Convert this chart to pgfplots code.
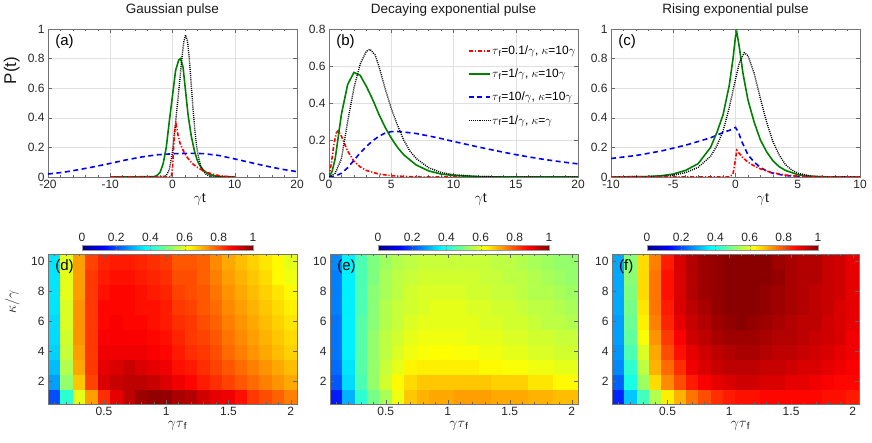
\documentclass[border=0pt]{standalone}
\usepackage{fontspec}
\setmainfont{Liberation Sans}
\usepackage{pgfplots}
\pgfplotsset{compat=1.18}
\definecolor{mgreen}{rgb}{0,0.5,0}
\pgfplotsset{
  /pgf/number format/assume math mode=true,
  common/.style={
    scale only axis,
    axis line style={black!55, line width=0.5pt},
    tick style={black!60, line width=0.5pt},
    tick align=inside,
    major tick length=4pt,
    minor tick length=2.2pt,
    ticklabel style={font=\fontsize{12}{13}\selectfont, text=black!85},
    label style={font=\fontsize{14}{15}\selectfont, text=black!90},
  },
  toppanel/.style={
    common, width=249pt, height=148pt,
    grid=major, grid style={black!12, line width=0.4pt},
    minor x tick num=4,
    title style={font=\fontsize{13.5}{14}\selectfont, text=black!90, yshift=3pt},
    xlabel={$\gamma$t},
    xlabel style={at={(axis description cs:0.61,0)}, anchor=north, yshift=-13pt},
  },
  heat/.style={
    common, height=150pt,
    axis on top, xmin=0.05, xmax=2.05, ymin=0.5, ymax=10.5,
    xtick={0.5,1,1.5,2}, ytick={2,4,6,8,10},
    minor xtick={0.1,0.2,0.3,0.4,0.6,0.7,0.8,0.9,1.1,1.2,1.3,1.4,1.6,1.7,1.8,1.9},
    colormap/jet, point meta min=0, point meta max=1,
    colorbar horizontal,
    xlabel={$\gamma\tau$\textsubscript{f}},
    xlabel style={at={(axis description cs:0.52,0)}, anchor=north, yshift=-14pt},
  },
  cbcommon/.style={anchor=south west, scale only axis, width=171pt, height=4.6pt,
    xtick={0,0.2,0.4,0.6,0.8,1}, xticklabel pos=upper, tick align=inside,
    major tick length=1.5pt, axis line style={black!40}, tick style={black!50},
    xticklabel style={font=\fontsize{12}{13}\selectfont, text=black!85},
    /pgf/number format/assume math mode=true},
  redc/.style={color=red, line width=1.6pt, dash pattern=on 4pt off 1.8pt on 1.2pt off 1.8pt},
  greenc/.style={color=mgreen, line width=1.6pt, solid},
  bluec/.style={color=blue, line width=1.6pt, dash pattern=on 5pt off 3.5pt},
  blackc/.style={color=black, line width=1.4pt, dash pattern=on 1pt off 1.1pt},
}
\begin{document}
\begin{tikzpicture}
\useasboundingbox (0,0) rectangle (872pt,443pt);
% ---------------- (a)
\begin{axis}[toppanel, at={(48pt,266pt)}, anchor=south west,
  xmin=-20, xmax=20, ymin=0, ymax=1,
  xtick={-20,-10,0,10,20}, ytick={0,0.2,0.4,0.6,0.8,1},
  title={Gaussian pulse}, ylabel={P(t)},
  ylabel style={at={(axis description cs:-0.1,0.72)}, anchor=south, font=\fontsize{17}{18}\selectfont}]
\addplot[bluec] coordinates {(-20,0.02) (-17.5,0.032) (-15,0.05) (-12.5,0.07) (-10,0.092) (-7.5,0.115) (-5,0.135) (-2.5,0.15) (0,0.157) (2.5,0.16) (5,0.158) (7.5,0.145) (10,0.122) (12.5,0.098) (15,0.074) (17.5,0.053) (20,0.036)};
\addplot[greenc] coordinates {(-10,0) (-3,0.002) (-2.5,0.01) (-2,0.03) (-1.5,0.09) (-1,0.2) (-0.5,0.38) (0,0.55) (0.5,0.72) (1,0.79) (1.3,0.8) (1.7,0.74) (2,0.62) (2.5,0.42) (3,0.28) (3.5,0.18) (4,0.11) (4.5,0.07) (5,0.045) (5.5,0.028) (6,0.017) (7,0.006) (8,0.002) (10,0)};
\addplot[blackc] coordinates {(-10,0) (-2,0) (-1,0.01) (-0.5,0.05) (0,0.17) (0.5,0.37) (1,0.58) (1.5,0.8) (1.8,0.91) (2.1,0.96) (2.4,0.92) (2.7,0.8) (3,0.63) (3.3,0.46) (3.6,0.31) (3.9,0.2) (4.2,0.13) (4.5,0.08) (5,0.035) (5.5,0.015) (6,0.006) (7,0.001) (10,0)};
\addplot[redc] coordinates {(-10,0) (-0.2,0) (0,0.06) (0.2,0.22) (0.4,0.33) (0.55,0.36) (0.7,0.33) (0.9,0.28) (1.2,0.23) (1.6,0.19) (2,0.155) (2.5,0.125) (3,0.1) (3.5,0.08) (4,0.065) (5,0.04) (6,0.025) (7,0.013) (8,0.006) (10,0.001)};
\node[anchor=north west, font=\fontsize{15}{16}\selectfont] at (rel axis cs:0.015,0.985) {(a)};
\end{axis}
% ---------------- (b)
\begin{axis}[toppanel, at={(329pt,266pt)}, anchor=south west,
  xmin=0, xmax=20, ymin=0, ymax=0.8,
  xtick={0,5,10,15,20}, ytick={0,0.2,0.4,0.6,0.8},
  title={Decaying exponential pulse},
  legend style={at={(axis description cs:0.995,0.895)}, anchor=north east, draw=none, fill=none,
    font=\fontsize{12}{13}\selectfont, row sep=11pt, inner sep=0pt, nodes={inner sep=1pt}},
  legend cell align=left,
  legend image post style={xscale=1.25}]
\addplot[redc] coordinates {(0,0) (0.2,0.08) (0.4,0.18) (0.6,0.24) (0.75,0.25) (1,0.22) (1.5,0.14) (2,0.085) (2.5,0.055) (3,0.035) (4,0.016) (5,0.007) (6,0.003) (8,0) (20,0)};
\addlegendentry{$\tau$\textsubscript{f}=0.1/$\gamma$, $\kappa$=10$\gamma$}
\addplot[greenc] coordinates {(0,0) (0.25,0.03) (0.5,0.1) (0.75,0.22) (1,0.34) (1.5,0.5) (2,0.565) (2.5,0.55) (3,0.49) (3.5,0.42) (4,0.34) (4.5,0.27) (5,0.21) (5.5,0.16) (6,0.12) (7,0.065) (8,0.033) (9,0.016) (10,0.008) (12,0.002) (14,0) (20,0)};
\addlegendentry{$\tau$\textsubscript{f}=1/$\gamma$, $\kappa$=10$\gamma$}
\addplot[bluec] coordinates {(0,0) (0.5,0.005) (1,0.02) (1.5,0.05) (2,0.09) (2.5,0.13) (3,0.165) (3.5,0.195) (4,0.22) (4.5,0.237) (5,0.245) (5.5,0.246) (6,0.243) (7,0.235) (8,0.222) (9,0.208) (10,0.192) (11,0.177) (12,0.162) (13,0.148) (14,0.134) (15,0.121) (16,0.109) (17,0.098) (18,0.088) (19,0.079) (20,0.071)};
\addlegendentry{$\tau$\textsubscript{f}=10/$\gamma$, $\kappa$=10$\gamma$}
\addplot[blackc] coordinates {(0,0) (0.5,0.02) (1,0.1) (1.5,0.3) (2,0.48) (2.5,0.61) (3,0.68) (3.3,0.69) (3.7,0.66) (4,0.6) (4.5,0.48) (5,0.37) (5.5,0.28) (6,0.2) (6.5,0.14) (7,0.1) (8,0.05) (9,0.025) (10,0.012) (12,0.003) (14,0) (20,0)};
\addlegendentry{$\tau$\textsubscript{f}=1/$\gamma$, $\kappa$=$\gamma$}
\node[anchor=north west, font=\fontsize{15}{16}\selectfont] at (rel axis cs:0.015,0.985) {(b)};
\end{axis}
% ---------------- (c)
\begin{axis}[toppanel, at={(611pt,266pt)}, anchor=south west,
  xmin=-10, xmax=10, ymin=0, ymax=1,
  xtick={-10,-5,0,5,10}, ytick={0,0.2,0.4,0.6,0.8,1},
  title={Rising exponential pulse}]
\addplot[bluec] coordinates {(-10,0.125) (-8,0.145) (-6,0.175) (-5,0.195) (-4,0.215) (-3,0.24) (-2,0.265) (-1,0.3) (-0.5,0.315) (0,0.335) (0.25,0.3) (0.5,0.24) (1,0.15) (1.5,0.1) (2,0.065) (2.5,0.04) (3,0.025) (4,0.01) (5,0.004) (6,0.001) (10,0)};
\addplot[greenc] coordinates {(-10,0) (-7,0.003) (-6,0.008) (-5,0.02) (-4,0.045) (-3,0.09) (-2,0.2) (-1.5,0.3) (-1,0.42) (-0.5,0.62) (-0.2,0.8) (0,0.95) (0.1,0.98) (0.3,0.88) (0.6,0.7) (1,0.52) (1.5,0.37) (2,0.25) (2.5,0.17) (3,0.11) (3.5,0.07) (4,0.045) (5,0.016) (6,0.005) (7,0.001) (10,0)};
\addplot[blackc] coordinates {(-10,0) (-6,0.005) (-5,0.012) (-4,0.03) (-3,0.065) (-2,0.14) (-1.5,0.21) (-1,0.31) (-0.5,0.47) (0,0.66) (0.3,0.77) (0.7,0.84) (1,0.82) (1.5,0.7) (2,0.53) (2.5,0.37) (3,0.24) (3.5,0.15) (4,0.085) (4.5,0.048) (5,0.026) (6,0.007) (7,0.002) (10,0)};
\addplot[redc] coordinates {(-10,0) (-0.5,0) (-0.2,0.02) (0,0.12) (0.1,0.18) (0.3,0.16) (0.6,0.13) (1,0.1) (1.5,0.075) (2,0.055) (2.5,0.04) (3,0.028) (4,0.013) (5,0.006) (6,0.002) (10,0)};
\node[anchor=north west, font=\fontsize{15}{16}\selectfont] at (rel axis cs:0.015,0.985) {(c)};
\end{axis}
% ---------------- (d)
\begin{axis}[heat, width=249pt, at={(48pt,39pt)}, anchor=south west,
  ylabel={$\kappa/\gamma$},
  ylabel style={at={(axis description cs:-0.1,0.68)}, anchor=south, font=\fontsize{15}{16}\selectfont},
  colorbar style={cbcommon, at={(parent axis.north west)}, xshift=34pt, yshift=12.5pt}]
\addplot[matrix plot*, mesh/cols=20, point meta=explicit] coordinates {
(0.1,1)[0.20] (0.2,1)[0.42] (0.3,1)[0.60] (0.4,1)[0.72] (0.5,1)[0.83] (0.6,1)[0.90] (0.7,1)[0.94] (0.8,1)[0.97] (0.9,1)[0.98] (1.0,1)[0.98] (1.1,1)[0.96] (1.2,1)[0.95] (1.3,1)[0.92] (1.4,1)[0.90] (1.5,1)[0.89] (1.6,1)[0.86] (1.7,1)[0.82] (1.8,1)[0.80] (1.9,1)[0.78] (2.0,1)[0.75]

(0.1,2)[0.28] (0.2,2)[0.52] (0.3,2)[0.68] (0.4,2)[0.81] (0.5,2)[0.91] (0.6,2)[0.93] (0.7,2)[0.94] (0.8,2)[0.94] (0.9,2)[0.93] (1.0,2)[0.91] (1.1,2)[0.89] (1.2,2)[0.87] (1.3,2)[0.85] (1.4,2)[0.83] (1.5,2)[0.81] (1.6,2)[0.79] (1.7,2)[0.77] (1.8,2)[0.75] (1.9,2)[0.73] (2.0,2)[0.71]

(0.1,3)[0.31] (0.2,3)[0.55] (0.3,3)[0.71] (0.4,3)[0.82] (0.5,3)[0.90] (0.6,3)[0.91] (0.7,3)[0.93] (0.8,3)[0.91] (0.9,3)[0.90] (1.0,3)[0.89] (1.1,3)[0.86] (1.2,3)[0.85] (1.3,3)[0.83] (1.4,3)[0.81] (1.5,3)[0.79] (1.6,3)[0.77] (1.7,3)[0.75] (1.8,3)[0.73] (1.9,3)[0.71] (2.0,3)[0.69]

(0.1,4)[0.33] (0.2,4)[0.57] (0.3,4)[0.72] (0.4,4)[0.82] (0.5,4)[0.89] (0.6,4)[0.89] (0.7,4)[0.89] (0.8,4)[0.89] (0.9,4)[0.88] (1.0,4)[0.87] (1.1,4)[0.85] (1.2,4)[0.83] (1.3,4)[0.82] (1.4,4)[0.80] (1.5,4)[0.77] (1.6,4)[0.75] (1.7,4)[0.73] (1.8,4)[0.71] (1.9,4)[0.69] (2.0,4)[0.67]

(0.1,5)[0.34] (0.2,5)[0.58] (0.3,5)[0.73] (0.4,5)[0.82] (0.5,5)[0.88] (0.6,5)[0.88] (0.7,5)[0.88] (0.8,5)[0.88] (0.9,5)[0.87] (1.0,5)[0.86] (1.1,5)[0.84] (1.2,5)[0.82] (1.3,5)[0.81] (1.4,5)[0.79] (1.5,5)[0.76] (1.6,5)[0.74] (1.7,5)[0.72] (1.8,5)[0.70] (1.9,5)[0.68] (2.0,5)[0.66]

(0.1,6)[0.34] (0.2,6)[0.59] (0.3,6)[0.73] (0.4,6)[0.82] (0.5,6)[0.87] (0.6,6)[0.88] (0.7,6)[0.87] (0.8,6)[0.87] (0.9,6)[0.86] (1.0,6)[0.85] (1.1,6)[0.83] (1.2,6)[0.82] (1.3,6)[0.80] (1.4,6)[0.78] (1.5,6)[0.75] (1.6,6)[0.73] (1.7,6)[0.71] (1.8,6)[0.69] (1.9,6)[0.67] (2.0,6)[0.65]

(0.1,7)[0.35] (0.2,7)[0.59] (0.3,7)[0.73] (0.4,7)[0.82] (0.5,7)[0.87] (0.6,7)[0.87] (0.7,7)[0.87] (0.8,7)[0.86] (0.9,7)[0.86] (1.0,7)[0.85] (1.1,7)[0.82] (1.2,7)[0.81] (1.3,7)[0.79] (1.4,7)[0.77] (1.5,7)[0.74] (1.6,7)[0.72] (1.7,7)[0.70] (1.8,7)[0.68] (1.9,7)[0.66] (2.0,7)[0.64]

(0.1,8)[0.35] (0.2,8)[0.60] (0.3,8)[0.72] (0.4,8)[0.82] (0.5,8)[0.86] (0.6,8)[0.87] (0.7,8)[0.87] (0.8,8)[0.86] (0.9,8)[0.85] (1.0,8)[0.84] (1.1,8)[0.81] (1.2,8)[0.80] (1.3,8)[0.79] (1.4,8)[0.76] (1.5,8)[0.73] (1.6,8)[0.71] (1.7,8)[0.69] (1.8,8)[0.67] (1.9,8)[0.65] (2.0,8)[0.63]

(0.1,9)[0.35] (0.2,9)[0.60] (0.3,9)[0.72] (0.4,9)[0.82] (0.5,9)[0.85] (0.6,9)[0.86] (0.7,9)[0.86] (0.8,9)[0.85] (0.9,9)[0.84] (1.0,9)[0.83] (1.1,9)[0.80] (1.2,9)[0.80] (1.3,9)[0.78] (1.4,9)[0.75] (1.5,9)[0.72] (1.6,9)[0.70] (1.7,9)[0.68] (1.8,9)[0.66] (1.9,9)[0.63] (2.0,9)[0.61]

(0.1,10)[0.35] (0.2,10)[0.60] (0.3,10)[0.72] (0.4,10)[0.81] (0.5,10)[0.84] (0.6,10)[0.85] (0.7,10)[0.85] (0.8,10)[0.84] (0.9,10)[0.83] (1.0,10)[0.82] (1.1,10)[0.79] (1.2,10)[0.79] (1.3,10)[0.78] (1.4,10)[0.74] (1.5,10)[0.71] (1.6,10)[0.69] (1.7,10)[0.67] (1.8,10)[0.65] (1.9,10)[0.63] (2.0,10)[0.60]
};
\node[anchor=north west, font=\fontsize{15}{16}\selectfont] at (rel axis cs:0.015,0.985) {(d)};
\end{axis}
% ---------------- (e)
\begin{axis}[heat, width=248pt, at={(330pt,39pt)}, anchor=south west,
  colorbar style={cbcommon, at={(parent axis.north west)}, xshift=48pt, yshift=12.5pt}]
\addplot[matrix plot*, mesh/cols=20, point meta=explicit] coordinates {
(0.1,1)[0.15] (0.2,1)[0.30] (0.3,1)[0.42] (0.4,1)[0.49] (0.5,1)[0.54] (0.6,1)[0.61] (0.7,1)[0.68] (0.8,1)[0.70] (0.9,1)[0.71] (1.0,1)[0.71] (1.1,1)[0.72] (1.2,1)[0.72] (1.3,1)[0.72] (1.4,1)[0.71] (1.5,1)[0.71] (1.6,1)[0.71] (1.7,1)[0.70] (1.8,1)[0.70] (1.9,1)[0.69] (2.0,1)[0.69]

(0.1,2)[0.21] (0.2,2)[0.34] (0.3,2)[0.45] (0.4,2)[0.52] (0.5,2)[0.58] (0.6,2)[0.63] (0.7,2)[0.66] (0.8,2)[0.68] (0.9,2)[0.68] (1.0,2)[0.68] (1.1,2)[0.68] (1.2,2)[0.68] (1.3,2)[0.68] (1.4,2)[0.67] (1.5,2)[0.67] (1.6,2)[0.67] (1.7,2)[0.65] (1.8,2)[0.65] (1.9,2)[0.63] (2.0,2)[0.63]

(0.1,3)[0.23] (0.2,3)[0.35] (0.3,3)[0.46] (0.4,3)[0.52] (0.5,3)[0.57] (0.6,3)[0.60] (0.7,3)[0.635] (0.8,3)[0.64] (0.9,3)[0.64] (1.0,3)[0.64] (1.1,3)[0.64] (1.2,3)[0.64] (1.3,3)[0.63] (1.4,3)[0.63] (1.5,3)[0.62] (1.6,3)[0.62] (1.7,3)[0.61] (1.8,3)[0.61] (1.9,3)[0.60] (2.0,3)[0.60]

(0.1,4)[0.24] (0.2,4)[0.36] (0.3,4)[0.46] (0.4,4)[0.52] (0.5,4)[0.56] (0.6,4)[0.59] (0.7,4)[0.61] (0.8,4)[0.62] (0.9,4)[0.625] (1.0,4)[0.625] (1.1,4)[0.62] (1.2,4)[0.62] (1.3,4)[0.61] (1.4,4)[0.61] (1.5,4)[0.60] (1.6,4)[0.60] (1.7,4)[0.59] (1.8,4)[0.59] (1.9,4)[0.58] (2.0,4)[0.58]

(0.1,5)[0.24] (0.2,5)[0.36] (0.3,5)[0.46] (0.4,5)[0.52] (0.5,5)[0.56] (0.6,5)[0.58] (0.7,5)[0.60] (0.8,5)[0.61] (0.9,5)[0.61] (1.0,5)[0.61] (1.1,5)[0.61] (1.2,5)[0.60] (1.3,5)[0.60] (1.4,5)[0.60] (1.5,5)[0.59] (1.6,5)[0.59] (1.7,5)[0.58] (1.8,5)[0.58] (1.9,5)[0.57] (2.0,5)[0.57]

(0.1,6)[0.24] (0.2,6)[0.36] (0.3,6)[0.46] (0.4,6)[0.51] (0.5,6)[0.55] (0.6,6)[0.57] (0.7,6)[0.59] (0.8,6)[0.60] (0.9,6)[0.60] (1.0,6)[0.60] (1.1,6)[0.60] (1.2,6)[0.60] (1.3,6)[0.59] (1.4,6)[0.59] (1.5,6)[0.58] (1.6,6)[0.58] (1.7,6)[0.57] (1.8,6)[0.56] (1.9,6)[0.56] (2.0,6)[0.55]

(0.1,7)[0.25] (0.2,7)[0.36] (0.3,7)[0.45] (0.4,7)[0.51] (0.5,7)[0.55] (0.6,7)[0.57] (0.7,7)[0.58] (0.8,7)[0.59] (0.9,7)[0.60] (1.0,7)[0.60] (1.1,7)[0.60] (1.2,7)[0.59] (1.3,7)[0.59] (1.4,7)[0.58] (1.5,7)[0.58] (1.6,7)[0.57] (1.7,7)[0.56] (1.8,7)[0.56] (1.9,7)[0.55] (2.0,7)[0.54]

(0.1,8)[0.25] (0.2,8)[0.36] (0.3,8)[0.45] (0.4,8)[0.51] (0.5,8)[0.54] (0.6,8)[0.56] (0.7,8)[0.58] (0.8,8)[0.59] (0.9,8)[0.59] (1.0,8)[0.59] (1.1,8)[0.59] (1.2,8)[0.58] (1.3,8)[0.58] (1.4,8)[0.57] (1.5,8)[0.57] (1.6,8)[0.56] (1.7,8)[0.55] (1.8,8)[0.55] (1.9,8)[0.54] (2.0,8)[0.53]

(0.1,9)[0.25] (0.2,9)[0.36] (0.3,9)[0.45] (0.4,9)[0.50] (0.5,9)[0.54] (0.6,9)[0.56] (0.7,9)[0.57] (0.8,9)[0.58] (0.9,9)[0.58] (1.0,9)[0.58] (1.1,9)[0.58] (1.2,9)[0.58] (1.3,9)[0.57] (1.4,9)[0.57] (1.5,9)[0.56] (1.6,9)[0.56] (1.7,9)[0.55] (1.8,9)[0.54] (1.9,9)[0.53] (2.0,9)[0.52]

(0.1,10)[0.26] (0.2,10)[0.36] (0.3,10)[0.45] (0.4,10)[0.50] (0.5,10)[0.53] (0.6,10)[0.55] (0.7,10)[0.56] (0.8,10)[0.57] (0.9,10)[0.57] (1.0,10)[0.57] (1.1,10)[0.57] (1.2,10)[0.57] (1.3,10)[0.57] (1.4,10)[0.56] (1.5,10)[0.56] (1.6,10)[0.55] (1.7,10)[0.54] (1.8,10)[0.53] (1.9,10)[0.52] (2.0,10)[0.52]
};
\node[anchor=north west, font=\fontsize{15}{16}\selectfont] at (rel axis cs:0.015,0.985) {(e)};
\end{axis}
% ---------------- (f)
\begin{axis}[heat, width=247pt, at={(612pt,39pt)}, anchor=south west,
  colorbar style={cbcommon, at={(parent axis.north west)}, xshift=35pt, yshift=12.5pt}]
\addplot[matrix plot*, mesh/cols=20, point meta=explicit] coordinates {
(0.1,1)[0.16] (0.2,1)[0.32] (0.3,1)[0.44] (0.4,1)[0.55] (0.5,1)[0.64] (0.6,1)[0.70] (0.7,1)[0.76] (0.8,1)[0.80] (0.9,1)[0.83] (1.0,1)[0.85] (1.1,1)[0.86] (1.2,1)[0.86] (1.3,1)[0.87] (1.4,1)[0.87] (1.5,1)[0.87] (1.6,1)[0.87] (1.7,1)[0.87] (1.8,1)[0.86] (1.9,1)[0.86] (2.0,1)[0.85]

(0.1,2)[0.22] (0.2,2)[0.40] (0.3,2)[0.53] (0.4,2)[0.66] (0.5,2)[0.74] (0.6,2)[0.80] (0.7,2)[0.85] (0.8,2)[0.88] (0.9,2)[0.90] (1.0,2)[0.91] (1.1,2)[0.92] (1.2,2)[0.92] (1.3,2)[0.91] (1.4,2)[0.91] (1.5,2)[0.90] (1.6,2)[0.90] (1.7,2)[0.89] (1.8,2)[0.88] (1.9,2)[0.87] (2.0,2)[0.87]

(0.1,3)[0.26] (0.2,3)[0.42] (0.3,3)[0.56] (0.4,3)[0.70] (0.5,3)[0.77] (0.6,3)[0.83] (0.7,3)[0.89] (0.8,3)[0.91] (0.9,3)[0.93] (1.0,3)[0.94] (1.1,3)[0.94] (1.2,3)[0.94] (1.3,3)[0.93] (1.4,3)[0.93] (1.5,3)[0.92] (1.6,3)[0.91] (1.7,3)[0.91] (1.8,3)[0.90] (1.9,3)[0.89] (2.0,3)[0.88]

(0.1,4)[0.27] (0.2,4)[0.45] (0.3,4)[0.59] (0.4,4)[0.71] (0.5,4)[0.80] (0.6,4)[0.86] (0.7,4)[0.90] (0.8,4)[0.92] (0.9,4)[0.94] (1.0,4)[0.95] (1.1,4)[0.96] (1.2,4)[0.96] (1.3,4)[0.95] (1.4,4)[0.94] (1.5,4)[0.94] (1.6,4)[0.93] (1.7,4)[0.92] (1.8,4)[0.91] (1.9,4)[0.90] (2.0,4)[0.89]

(0.1,5)[0.28] (0.2,5)[0.47] (0.3,5)[0.62] (0.4,5)[0.73] (0.5,5)[0.82] (0.6,5)[0.88] (0.7,5)[0.92] (0.8,5)[0.94] (0.9,5)[0.96] (1.0,5)[0.97] (1.1,5)[0.97] (1.2,5)[0.97] (1.3,5)[0.96] (1.4,5)[0.95] (1.5,5)[0.95] (1.6,5)[0.94] (1.7,5)[0.93] (1.8,5)[0.92] (1.9,5)[0.91] (2.0,5)[0.89]

(0.1,6)[0.28] (0.2,6)[0.48] (0.3,6)[0.64] (0.4,6)[0.75] (0.5,6)[0.84] (0.6,6)[0.90] (0.7,6)[0.93] (0.8,6)[0.95] (0.9,6)[0.97] (1.0,6)[0.98] (1.1,6)[0.99] (1.2,6)[0.98] (1.3,6)[0.97] (1.4,6)[0.96] (1.5,6)[0.95] (1.6,6)[0.94] (1.7,6)[0.94] (1.8,6)[0.92] (1.9,6)[0.91] (2.0,6)[0.90]

(0.1,7)[0.29] (0.2,7)[0.49] (0.3,7)[0.65] (0.4,7)[0.76] (0.5,7)[0.85] (0.6,7)[0.91] (0.7,7)[0.94] (0.8,7)[0.96] (0.9,7)[0.98] (1.0,7)[0.99] (1.1,7)[0.99] (1.2,7)[0.99] (1.3,7)[0.98] (1.4,7)[0.97] (1.5,7)[0.96] (1.6,7)[0.95] (1.7,7)[0.94] (1.8,7)[0.93] (1.9,7)[0.91] (2.0,7)[0.90]

(0.1,8)[0.29] (0.2,8)[0.50] (0.3,8)[0.66] (0.4,8)[0.76] (0.5,8)[0.86] (0.6,8)[0.91] (0.7,8)[0.95] (0.8,8)[0.97] (0.9,8)[0.98] (1.0,8)[0.99] (1.1,8)[0.99] (1.2,8)[0.99] (1.3,8)[0.98] (1.4,8)[0.97] (1.5,8)[0.96] (1.6,8)[0.95] (1.7,8)[0.94] (1.8,8)[0.93] (1.9,8)[0.92] (2.0,8)[0.90]

(0.1,9)[0.29] (0.2,9)[0.51] (0.3,9)[0.66] (0.4,9)[0.76] (0.5,9)[0.86] (0.6,9)[0.91] (0.7,9)[0.95] (0.8,9)[0.97] (0.9,9)[0.98] (1.0,9)[0.99] (1.1,9)[0.99] (1.2,9)[0.99] (1.3,9)[0.99] (1.4,9)[0.98] (1.5,9)[0.96] (1.6,9)[0.95] (1.7,9)[0.95] (1.8,9)[0.93] (1.9,9)[0.92] (2.0,9)[0.90]

(0.1,10)[0.29] (0.2,10)[0.51] (0.3,10)[0.66] (0.4,10)[0.75] (0.5,10)[0.85] (0.6,10)[0.91] (0.7,10)[0.95] (0.8,10)[0.97] (0.9,10)[0.98] (1.0,10)[0.99] (1.1,10)[0.99] (1.2,10)[0.99] (1.3,10)[0.99] (1.4,10)[0.97] (1.5,10)[0.96] (1.6,10)[0.95] (1.7,10)[0.95] (1.8,10)[0.93] (1.9,10)[0.92] (2.0,10)[0.90]
};
\node[anchor=north west, font=\fontsize{15}{16}\selectfont] at (rel axis cs:0.015,0.985) {(f)};
\end{axis}
\end{tikzpicture}
\end{document}
